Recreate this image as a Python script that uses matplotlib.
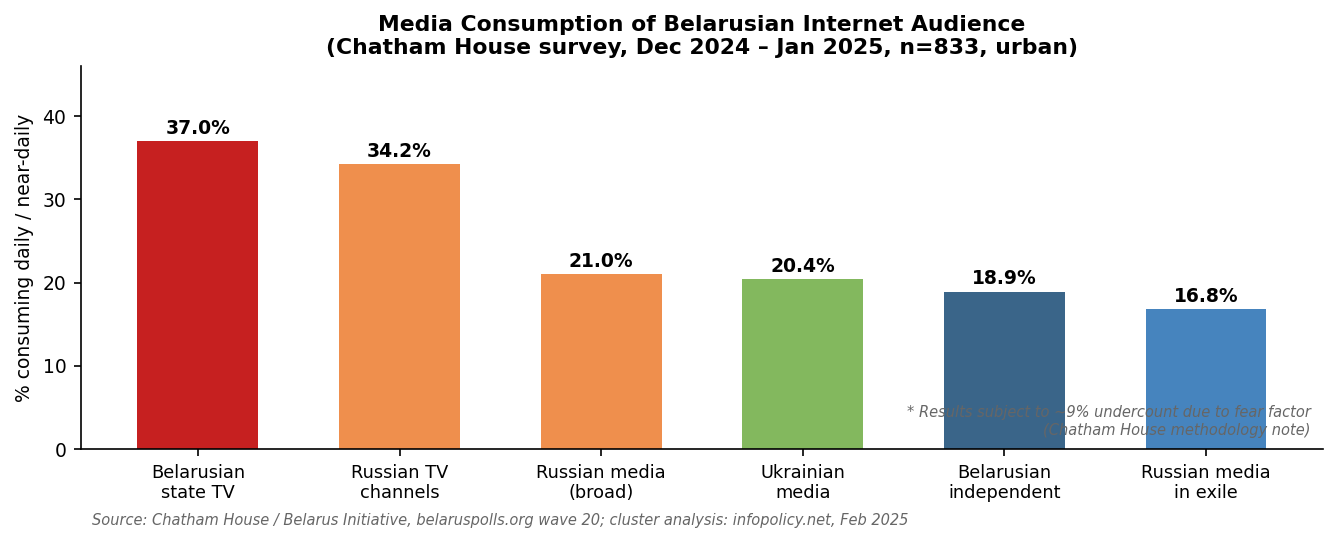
import matplotlib
matplotlib.use("Agg")
import matplotlib.pyplot as plt

categories = ["Belarusian\nstate TV", "Russian TV\nchannels", "Russian media\n(broad)",
              "Ukrainian\nmedia", "Belarusian\nindependent", "Russian media\nin exile"]
values = [37.0, 34.2, 21.0, 20.4, 18.9, 16.8]
colors = ["#c62020", "#ef8f4d", "#ef8f4d", "#83b85e", "#3a6589", "#4684be"]

fig, ax = plt.subplots(figsize=(1339 / 150, 543 / 150), dpi=150)
fig.subplots_adjust(left=0.0605, right=0.988, top=0.878, bottom=0.173)

x = range(len(categories))
bars = ax.bar(x, values, width=0.6, color=colors)
for b, v in zip(bars, values):
    ax.text(b.get_x() + b.get_width() / 2, v + 0.4, f"{v:.1f}%",
            ha="center", va="bottom", fontsize=9, fontweight="bold")

ax.set_xticks(list(x))
ax.set_xticklabels(categories, fontsize=8.5)
ax.tick_params(axis="y", labelsize=9)
ax.set_ylim(0, max(values) + 9)
ax.set_ylabel("% consuming daily / near-daily", fontsize=9)
ax.set_title("Media Consumption of Belarusian Internet Audience\n"
             "(Chatham House survey, Dec 2024 \u2013 Jan 2025, n=833, urban)",
             fontsize=10.5, fontweight="bold")
ax.spines["top"].set_visible(False)
ax.spines["right"].set_visible(False)

ax.text(0.99, 0.03, "* Results subject to ~9% undercount due to fear factor\n(Chatham House methodology note)",
        transform=ax.transAxes, ha="right", va="bottom", fontsize=7,
        style="italic", color="#666666")
fig.text(0.069, 0.042, "Source: Chatham House / Belarus Initiative, belaruspolls.org wave 20; "
         "cluster analysis: infopolicy.net, Feb 2025",
         ha="left", va="center", fontsize=7, style="italic", color="#666666")

fig.savefig("out.png", dpi=150)
